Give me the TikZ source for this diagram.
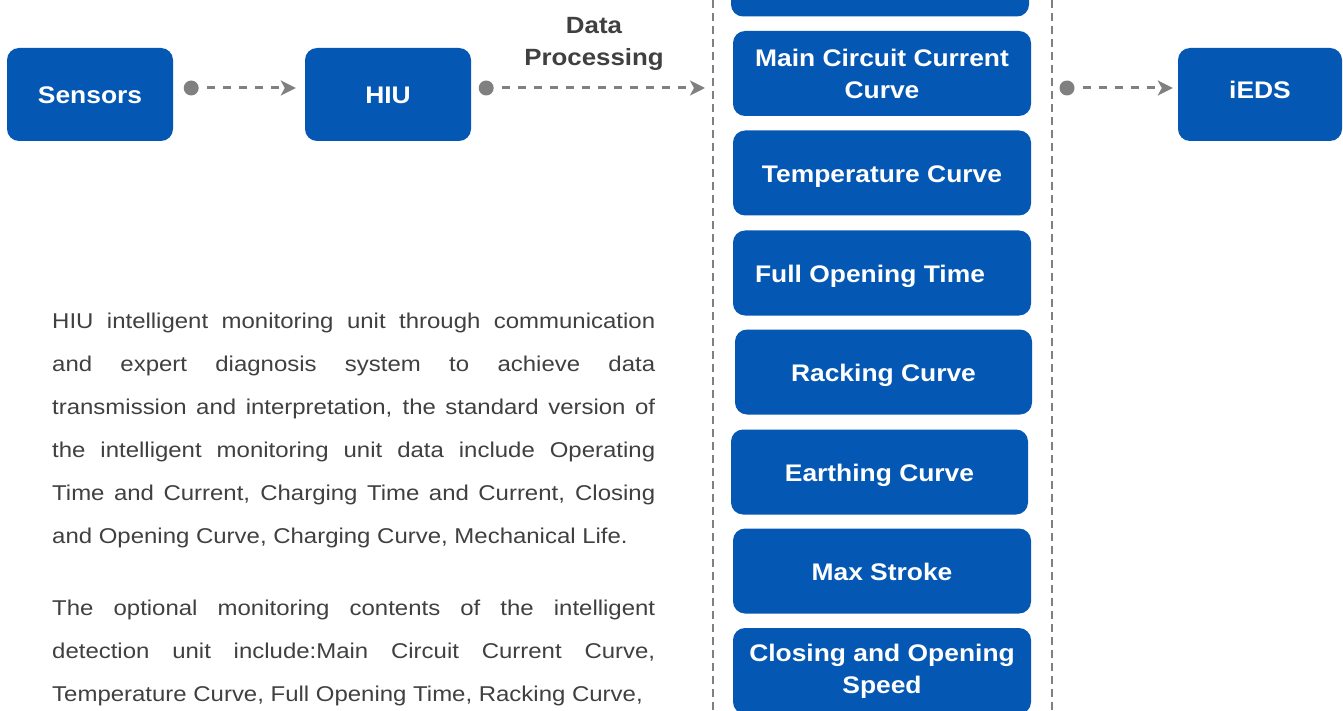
\documentclass[tikz,border=0pt]{standalone}
\usepackage{fontspec}
\usetikzlibrary{arrows.meta}
\newfontfamily\labelfont{Liberation Sans}[FakeStretch=1.12]
\newfontfamily\tagfont{Liberation Sans}[FakeStretch=1.1]
\definecolor{hblue}{RGB}{4,87,179}
\definecolor{lgray}{RGB}{128,128,128}
\definecolor{tgray}{RGB}{64,64,64}
\tikzset{
  blk/.style={fill=hblue, rounded corners=12pt, text=white, inner sep=0pt,
    font=\tagfont\bfseries\fontsize{24}{32}\selectfont},
  oneline/.style={text height=19pt, text depth=0pt},
  twolines/.style={align=center},
  side/.style={blk, oneline, minimum width=166pt, minimum height=93pt},
  item/.style={blk, minimum width=298pt, minimum height=85pt},
  dotmark/.style={circle, fill=lgray, inner sep=0pt, minimum size=15pt},
  link/.style={draw=lgray, line width=3pt, dash pattern=on 8pt off 8pt, dash phase=8pt,
    -{Stealth[length=15pt,width=15pt,inset=4pt]}},
  rail/.style={draw=lgray, line width=2pt, dash pattern=on 8pt off 5pt},
  body/.style={text=tgray, text width=603pt, align=justify, inner sep=0pt,
    font=\labelfont\fontsize{21.4}{43}\selectfont}
}
\begin{document}
\begin{tikzpicture}[x=1pt,y=-1pt]
\clip (0,0) rectangle (1343,711);
\fill[white] (0,0) rectangle (1343,711);

% source, unit and target
\node[side, text height=18pt] (sensors) at (90,94.5) {Sensors};
\node[side] (hiu) at (388,94.5) {HIU};
\node[side, minimum width=164pt, text height=8pt] (ieds) at (1260,94.5) {iEDS};

% dashed frame around the data column
\coordinate (railLtop) at (713,0);
\coordinate (railLbot) at (713,711);
\coordinate (railRtop) at (1052,0);
\coordinate (railRbot) at (1052,711);
\draw[rail] (railLtop) -- (railLbot);
\draw[rail] (railRtop) -- (railRbot);

% data items
\node[item] (top) at (880,-26) {};
\node[item, twolines] (mccc) at (882,73.5) {Main Circuit Current\\Curve};
\node[item, oneline] (temp) at (882,173) {Temperature Curve};
\node[item, oneline] (fot) at (882,273) {\hspace*{-24pt}Full Opening Time};
\node[item, oneline, minimum width=297pt] (rack) at (883.5,372) {Racking Curve};
\node[item, oneline, minimum width=297pt] (earth) at (879.5,472) {Earthing Curve};
\node[item, oneline] (stroke) at (882,571) {Max Stroke};
\node[item, twolines, minimum height=86pt] (speed) at (882,671) {Closing and Opening\\Speed};

% label above the processing link
\node[text=tgray, align=center, inner sep=0pt,
  font=\tagfont\bfseries\fontsize{23.5}{32}\selectfont] (dp) at (594,44) {Data\\Processing};

% links
\node[dotmark] (d1) at ([xshift=18pt,yshift=6.5pt]sensors.east) {};
\draw[link, shorten >=9pt] (d1.east) -- (d1.east -| hiu.west);
\node[dotmark] (d2) at ([xshift=15pt,yshift=6.5pt]hiu.east) {};
\draw[link, shorten >=8pt] (d2.east) -- (d2.east -| railLtop);
\node[dotmark] (d3) at (1067,88) {};
\draw[link, shorten >=5pt] (d3.east) -- (d3.east -| ieds.west);

% description
\node[body, anchor=base west] (p1) at (52,328.5) {%
HIU intelligent monitoring unit through communication\linebreak
and expert diagnosis system to achieve data\linebreak
transmission and interpretation, the standard version of\linebreak
the intelligent monitoring unit data include Operating\linebreak
Time and Current, Charging Time and Current, Closing\linebreak
and Opening Curve, Charging Curve, Mechanical Life.};
\node[body, anchor=base west] (p2) at (52,615.5) {%
The optional monitoring contents of the intelligent\linebreak
detection unit include:Main Circuit Current Curve,\linebreak
Temperature Curve, Full Opening Time, Racking Curve,\parfillskip=0pt};
\end{tikzpicture}
\end{document}
